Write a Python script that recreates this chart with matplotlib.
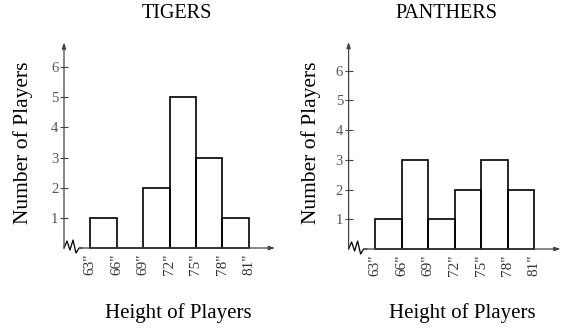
import numpy as np
import matplotlib
matplotlib.use("Agg")
import matplotlib.pyplot as plt
from matplotlib.transforms import ScaledTranslation

plt.rcParams['font.family'] = ['Liberation Serif', 'DejaVu Serif']

# data
edges = [63, 66, 69, 72, 75, 78, 81]
edge_labels = ['63"', '66"', '69"', '72"', '75"', '78"', '81"']
tigers = [1, 0, 2, 5, 3, 1]
panthers = [1, 3, 1, 2, 3, 2]
y_ticks = [1, 2, 3, 4, 5, 6]

W, H = 563, 329
fig = plt.figure(figsize=(W / 100, H / 100), dpi=100)


def panel(left_px, bottom_px, w_px, h_px, counts, title, tx, lx, ly, top):
    ax = fig.add_axes([left_px / W, bottom_px / H, w_px / W, h_px / H])
    ax.set_xlim(60, 84)
    ax.set_ylim(0, 7)
    for s in ax.spines.values():
        s.set_visible(False)

    ax.bar(edges[:-1], counts, width=3, align='edge', fill=False,
           edgecolor='black', linewidth=1.2, clip_on=False)

    # axes with arrows
    ax.annotate('', xy=(60, top), xytext=(60, 0),
                arrowprops=dict(arrowstyle='-|>,head_length=0.35,head_width=0.12',
                                lw=0.9, color='#444444', shrinkA=0, shrinkB=0))
    ax.annotate('', xy=(84, 0), xytext=(62.0, 0),
                arrowprops=dict(arrowstyle='-|>,head_length=0.35,head_width=0.12',
                                lw=0.9, color='#444444', shrinkA=0, shrinkB=0))
    # axis break zigzag
    tr = fig.dpi_scale_trans + ScaledTranslation(60, 0, ax.transData)
    zx = np.array([0, 3, 6, 9, 12, 15, 18]) / 100
    zy = np.array([0, 7, -2, 8, -5, 0, 0]) / 100
    ax.plot(zx, zy, color='black', lw=0.9, transform=tr, clip_on=False)

    ax.set_yticks(y_ticks)
    ax.set_yticklabels([str(v) for v in y_ticks])
    ax.tick_params(axis='y', direction='inout', length=6, width=0.8,
                   pad=1, labelsize=10.5, labelcolor='#555555', color='#444444')
    ax.set_xticks(edges)
    ax.set_xticklabels(edge_labels, rotation=90)
    ax.tick_params(axis='x', length=0, pad=4, labelsize=11, labelcolor='#333333')

    ax.text(tx, (H - 13 - bottom_px) / h_px, title, transform=ax.transAxes,
            ha='center', va='center', fontsize=14.5)
    ax.set_xlabel('Height of Players', fontsize=15)
    ax.xaxis.set_label_coords(lx, (H - 313 - bottom_px) / h_px)
    ax.xaxis.label.set_va('center')
    ax.set_ylabel('Number of Players', fontsize=15.5)
    ax.yaxis.set_label_coords(ly, (H - 143 - bottom_px) / h_px)
    ax.yaxis.label.set_va('center')
    return ax


panel(64, H - 248, 211, 211, tigers, 'TIGERS', 0.535, 0.54, -0.194, 6.82)
panel(348.6, H - 249, 212, 208, panthers, 'PANTHERS', 0.46, 0.535, -0.177, 6.97)

fig.savefig('out.png', dpi=100)
